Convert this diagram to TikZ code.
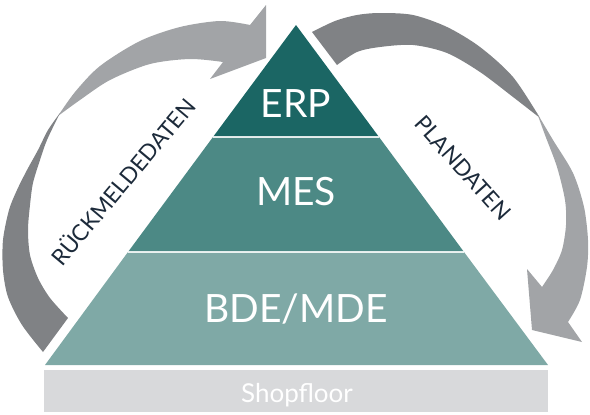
\documentclass[tikz,border=0pt]{standalone}
\usepackage{fontspec}
\setmainfont{Lato}
\definecolor{erpc}{HTML}{1B6664}
\definecolor{mesc}{HTML}{4C8985}
\definecolor{bdec}{HTML}{7FA9A6}
\definecolor{shopc}{HTML}{D8D9DB}
\definecolor{lightarrow}{HTML}{A2A4A7}
\definecolor{darkarrow}{HTML}{808285}
\definecolor{labelc}{HTML}{1C2A3A}
\tikzset{
  layer/.style={white, font=\fontsize{39}{44}\selectfont, anchor=base},
  sidelabel/.style={labelc, font=\fontsize{22.5}{26}\selectfont},
  divider/.style={white, line width=1.5pt, opacity=0.85}
}
\begin{document}
\begin{tikzpicture}[x=1pt,y=-1pt]
\useasboundingbox (0,0) rectangle (590,415);
% pyramid
\coordinate (apex) at (296,25);
\coordinate (l1) at (213,137); \coordinate (r1) at (379,137);
\coordinate (l2) at (128,252); \coordinate (r2) at (464,252);
\coordinate (l3) at (45,365);  \coordinate (r3) at (548,365);
\fill[erpc] (apex) -- (r1) -- (l1) -- cycle;
\fill[mesc] (l1) -- (r1) -- (r2) -- (l2) -- cycle;
\fill[bdec] (l2) -- (r2) -- (r3) -- (l3) -- cycle;
\draw[divider] (l1) -- (r1);
\draw[divider] (l2) -- (r2);
% shopfloor
\fill[shopc] (44,370) rectangle (548,412);
\node[white, font=\fontsize{26}{30}\selectfont, anchor=base] (shop) at (297,402) {Shopfloor};
% layer labels
\node[layer] (erp) at (296,117) {ERP};
\node[layer] (mes) at (296,205) {MES};
\node[layer] (bde) at (296,322) {BDE/MDE};
% left arrow: light part with head
\fill[lightarrow] plot[smooth] coordinates {(58,116) (75,92) (100,66) (140,41) (180,27) (220,21) (250,25)}
  -- (266,5) -- (266,58) -- (210,79) -- (223,62)
  -- plot[smooth] coordinates {(223,62) (190,59) (150,64) (110,80) (80,100) (58,116)} -- cycle;
% left arrow: dark tail
\fill[darkarrow] plot[smooth] coordinates {(60,113) (48,130) (38,150) (27,170) (17,190) (9,210) (3,240) (3,270) (8,297) (22,325) (43,352)}
  -- (68,318)
  -- plot[smooth] coordinates {(68,318) (50,298) (38,278) (30,255) (28,230) (30,205) (33,183) (40,160) (47,140) (60,113)} -- cycle;
% right arrow: dark tail
\fill[darkarrow] plot[smooth] coordinates {(312,32) (335,21) (357,15) (380,13) (413,15) (447,27) (480,47) (513,77) (540,118)}
  -- plot[smooth] coordinates {(540,118) (513,97) (480,72) (447,53) (413,45) (380,47) (357,52) (337,65)} -- cycle;
% right arrow: light part with head
\fill[lightarrow] plot[smooth] coordinates {(537,113) (553,140) (573,173) (584,207) (588,240) (587,267) (580,300) (568,322)}
  -- (582,342) -- (532,330) -- (527,269) -- (542,287)
  -- plot[smooth] coordinates {(542,287) (553,270) (562,250) (566,225) (565,200) (557,167) (545,135) (537,113)} -- cycle;
% side labels
\node[sidelabel, rotate=50] (rueck) at (122,181) {RÜCKMELDEDATEN};
\node[sidelabel, rotate=-48] (plan) at (463,168) {PLANDATEN};
\end{tikzpicture}
\end{document}
